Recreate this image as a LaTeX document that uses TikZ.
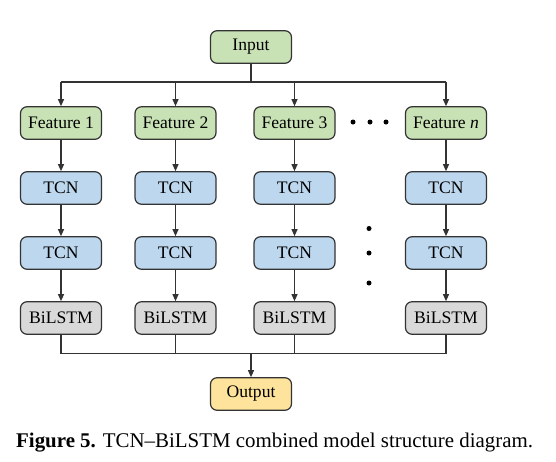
\documentclass[tikz,border=0pt]{standalone}
\usepackage{fontspec}
\setmainfont{Liberation Serif}
\usetikzlibrary{arrows.meta}
\definecolor{gfill}{HTML}{C8E2B6}
\definecolor{bfill}{HTML}{BDD7EE}
\definecolor{lfill}{HTML}{D9D9D9}
\definecolor{yfill}{HTML}{FDE39C}
\definecolor{edge}{HTML}{333333}
\begin{document}
\begin{tikzpicture}[x=1pt,y=-1pt,
  box/.style={draw=edge,line width=1.2pt,rounded corners=6.5pt,minimum width=81pt,minimum height=32.5pt,inner sep=0pt,font=\fontsize{17.6}{20}\selectfont},
  gbox/.style={box,fill=gfill},
  bbox/.style={box,fill=bfill},
  lbox/.style={box,fill=lfill},
  ybox/.style={box,fill=yfill},
  wire/.style={draw=edge,line width=1.1pt},
  arr/.style={wire,-{Triangle[length=7pt,width=6pt]}},
  dot/.style={fill=black,circle,inner sep=0pt,minimum size=5pt}]
\useasboundingbox (0,0) rectangle (556,461);
\node[gbox] (in) at (251,47) {Input};
\coordinate (busT) at (251,82);
\coordinate (busB) at (251,353.5);
\foreach \i/\x/\t in {1/61/Feature 1,2/175.5/Feature 2,3/294.5/Feature 3,4/446/Feature \textit{n}}{
  \node[gbox] (f\i) at (\x,123) {\t};
  \node[bbox] (ta\i) at (\x,188) {TCN};
  \node[bbox] (tb\i) at (\x,253) {TCN};
  \node[lbox] (b\i) at (\x,318) {BiLSTM};
  \draw[arr] (f\i.north |- busT) -- (f\i.north);
  \draw[arr] (f\i) -- (ta\i);
  \draw[arr] (ta\i) -- (tb\i);
  \draw[arr] (tb\i) -- (b\i);
  \draw[wire] (b\i.south) -- (b\i.south |- busB);
}
\node[ybox] (out) at (251,394) {Output};
\draw[wire] (in.south) -- (busT);
\draw[wire] (f1.north |- busT) -- (f4.north |- busT);
\draw[wire] (b1.south |- busB) -- (b4.south |- busB);
\draw[arr] (busB) -- (out.north);
\node[dot] (h1) at (353,122) {};
\node[dot] (h2) at (370,122) {};
\node[dot] (h3) at (386,122) {};
\node[dot] (v1) at (369,228.5) {};
\node[dot] (v2) at (369,253) {};
\node[dot] (v3) at (369,283) {};
\node[anchor=base west,inner sep=0pt,font=\fontsize{20.9}{24}\selectfont] (cap) at (16,447) {\textbf{Figure 5.} TCN–BiLSTM combined model structure diagram.};
\end{tikzpicture}
\end{document}
